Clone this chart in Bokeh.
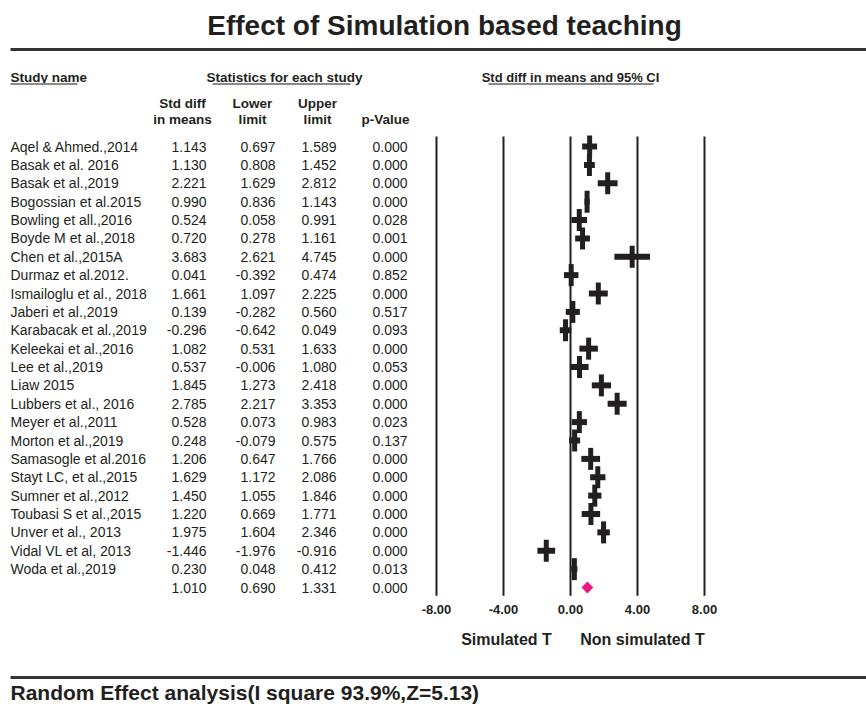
from bokeh.plotting import figure
from bokeh.models import Range1d
from bokeh.core.properties import value
from bokeh.embed import file_html
from bokeh.resources import INLINE

# ---------------- data ----------------
studies = ["Aqel & Ahmed.,2014", "Basak et al. 2016", "Basak et al.,2019", "Bogossian et al.2015",
           "Bowling et all.,2016", "Boyde M et al.,2018", "Chen et al.,2015A", "Durmaz et al.2012.",
           "Ismailoglu et al., 2018", "Jaberi et al.,2019", "Karabacak et al.,2019", "Keleekai et al.,2016",
           "Lee et al.,2019", "Liaw 2015", "Lubbers et al., 2016", "Meyer et al.,2011",
           "Morton et al.,2019", "Samasogle et al.2016", "Stayt LC, et al.,2015", "Sumner et al.,2012",
           "Toubasi S et al.,2015", "Unver et al., 2013", "Vidal VL et al, 2013", "Woda et al.,2019"]
std_diff = [1.143, 1.130, 2.221, 0.990, 0.524, 0.720, 3.683, 0.041, 1.661, 0.139, -0.296, 1.082,
            0.537, 1.845, 2.785, 0.528, 0.248, 1.206, 1.629, 1.450, 1.220, 1.975, -1.446, 0.230]
lower = [0.697, 0.808, 1.629, 0.836, 0.058, 0.278, 2.621, -0.392, 1.097, -0.282, -0.642, 0.531,
         -0.006, 1.273, 2.217, 0.073, -0.079, 0.647, 1.172, 1.055, 0.669, 1.604, -1.976, 0.048]
upper = [1.589, 1.452, 2.812, 1.143, 0.991, 1.161, 4.745, 0.474, 2.225, 0.560, 0.049, 1.633,
         1.080, 2.418, 3.353, 0.983, 0.575, 1.766, 2.086, 1.846, 1.771, 2.346, -0.916, 0.412]
p_value = [0.000, 0.000, 0.000, 0.000, 0.028, 0.001, 0.000, 0.852, 0.000, 0.517, 0.093, 0.000,
           0.053, 0.000, 0.000, 0.023, 0.137, 0.000, 0.000, 0.000, 0.000, 0.000, 0.000, 0.013]
summary_mean = 1.010
summary_lower = 0.690
summary_upper = 1.331
summary_p = 0.000
ticks = [-8, -4, 0, 4, 8]

title = "Effect of Simulation based teaching"
footer = "Random Effect analysis(I square 93.9%,Z=5.13)"

# ---------------- figure ----------------
FONT = value("Liberation Sans")
INK = "#231f20"
W, H = 866, 706

p = figure(width=W, height=H, output_backend="svg", toolbar_location=None,
           x_range=Range1d(-34.030, 17.672), y_range=Range1d(30.476, -7.946),
           x_axis_location=None, y_axis_location=None, min_border=0)
p.grid.visible = False
p.outline_line_color = None
p.extra_x_ranges = {"px": Range1d(0, W)}
p.extra_y_ranges = {"py": Range1d(H, 0)}

n = len(studies)
rows = list(range(n))

# ---- heading ----
p.text(x=[444], y=[25], text=[title], text_font=FONT, text_font_size="28px",
       text_font_style="bold", text_align="center", text_baseline="middle", text_color=INK,
       x_range_name="px", y_range_name="py")
p.segment(x0=[10, 10], x1=[W, W], y0=[49, 677], y1=[49, 677], line_width=3,
          line_color="#333333", x_range_name="px", y_range_name="py")

p.text(x=[10], y=[77], text=["Study name"], text_font=FONT, text_font_size="13.5px",
       text_font_style="bold", text_align="left", text_baseline="middle", text_color=INK,
       x_range_name="px", y_range_name="py")
p.text(x=[284], y=[77], text=["Statistics for each study"], text_font=FONT, text_font_size="13.5px",
       text_font_style="bold", text_align="center", text_baseline="middle", text_color=INK,
       x_range_name="px", y_range_name="py")
p.text(x=[570], y=[77], text=["Std diff in means and 95% CI"], text_font=FONT, text_font_size="13px",
       text_font_style="bold", text_align="center", text_baseline="middle", text_color=INK,
       x_range_name="px", y_range_name="py")
p.segment(x0=[10, 212, 488], x1=[77, 350, 653], y0=[83.5] * 3, y1=[83.5] * 3, line_width=2,
          line_color="#8a8a8a", x_range_name="px", y_range_name="py")

hx = [182, 252, 317, 182, 252, 317, 385]
hy = [103, 103, 103, 119, 119, 119, 119]
ht = ["Std diff", "Lower", "Upper", "in means", "limit", "limit", "p-Value"]
p.text(x=hx, y=hy, text=ht, text_font=FONT, text_font_size="13.5px", text_font_style="bold",
       text_align="center", text_baseline="middle", text_color=INK,
       x_range_name="px", y_range_name="py")

# ---- table rows ----
p.text(x=[10] * n, y=rows, text=studies, text_font=FONT, text_font_size="14px",
       text_align="left", text_baseline="middle", text_color=INK, x_range_name="px")
all_rows = rows + [n]
cols = [(206, std_diff + [summary_mean]), (275, lower + [summary_lower]),
        (336, upper + [summary_upper]), (407, p_value + [summary_p])]
for cx, vals in cols:
    p.text(x=[cx] * len(vals), y=all_rows, text=[f"{v:.3f}" for v in vals], text_font=FONT,
           text_font_size="14px", text_align="right", text_baseline="middle", text_color=INK,
           x_range_name="px")

# ---- forest plot ----
p.segment(x0=ticks, x1=ticks, y0=[-0.55] * len(ticks), y1=[n + 0.45] * len(ticks),
          line_width=2, line_color=INK)
p.segment(x0=lower, x1=upper, y0=rows, y1=rows, line_width=6, line_color=INK, line_cap="butt")
p.rect(x=std_diff, y=rows, width=5, height=22, width_units="screen", height_units="screen",
       fill_color=INK, line_color=None)
p.patch(x=[summary_lower, summary_mean, summary_upper, summary_mean],
        y=[n, n - 0.3, n, n + 0.3], fill_color="#e8177f", line_color="#e8177f", line_width=1)

p.text(x=ticks, y=[n + 1.2] * len(ticks), text=[f"{t:.2f}" for t in ticks], text_font=FONT,
       text_font_size="13px", text_font_style="bold", text_align="center", text_baseline="middle",
       text_color=INK)

p.text(x=[506, 642], y=[639, 639], text=["Simulated T", "Non simulated T"], text_font=FONT,
       text_font_size="16px", text_font_style="bold", text_align="center", text_baseline="middle",
       text_color=INK, x_range_name="px", y_range_name="py")

p.text(x=[10], y=[692], text=[footer], text_font=FONT, text_font_size="21px",
       text_font_style="bold", text_align="left", text_baseline="middle", text_color=INK,
       x_range_name="px", y_range_name="py")

open("out.html", "w").write(file_html(p, INLINE))
